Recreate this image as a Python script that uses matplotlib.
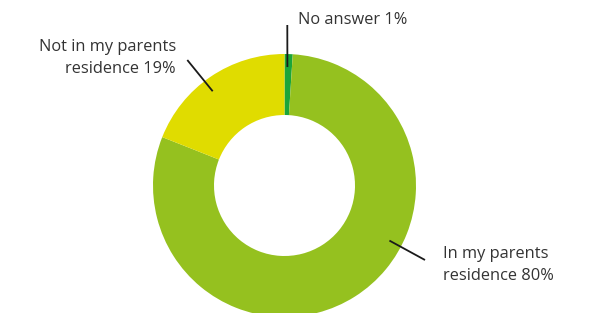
import numpy as np
import matplotlib.pyplot as plt

# data
labels = ["No answer 1%", "In my parents\nresidence 80%", "Not in my parents\nresidence 19%"]
shares = [1, 80, 19]
colors = ["#1BA53A", "#95C11F", "#E0DC00"]

W, H = 592, 313
cx, cy = 284.5, H - 185.5
r_out, r_in = 131.5, 70.5


def main():
    fig = plt.figure(figsize=(W / 100, H / 100), dpi=100)
    ax = fig.add_axes([0, 0, 1, 1])

    ax.pie(
        shares, colors=colors, startangle=90, counterclock=False,
        center=(cx, cy), radius=r_out, frame=True,
        wedgeprops=dict(width=r_out - r_in, linewidth=0),
    )
    ax.set_xlim(0, W)
    ax.set_ylim(0, H)
    ax.set_aspect("equal")
    ax.axis("off")

    # leader lines: (angle on ring, end point in px), text position, alignment
    leaders = [
        (88.6, (287.3, 25), (297.5, 20), "left"),
        (-27.7, (425, 260), (443, 265), "left"),
        (127.3, (187.3, 60), (176, 58), "right"),
    ]
    for lab, (ang, end, txt, ha) in zip(labels, leaders):
        a = np.deg2rad(ang)
        x0 = cx + 118.5 * np.cos(a)
        y0 = cy + 118.5 * np.sin(a)
        ax.plot([x0, end[0]], [y0, H - end[1]], color="#1a1a1a", lw=1.3,
                solid_capstyle="butt")
        ax.text(txt[0], H - txt[1], lab, ha=ha, va="center", multialignment=ha,
                fontsize=11.8, family="Open Sans", color="#333333",
                linespacing=1.45)

    fig.savefig("out.png", dpi=100)


if __name__ == "__main__":
    main()
